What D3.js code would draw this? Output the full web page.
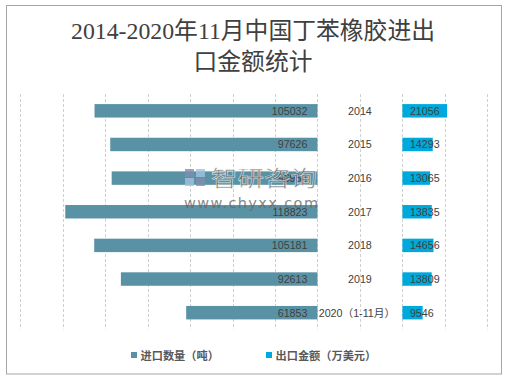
<!DOCTYPE html>
<html><head><meta charset="utf-8">
<script src="https://cdn.jsdelivr.net/npm/d3@7"></script>
<style>body{margin:0;background:#fff}svg{display:block}</style>
</head><body>
<script>
const years = ["2014","2015","2016","2017","2018","2019","2020（1-11月）"];
const importQty = [105032, 97626, 96954, 118823, 105181, 92613, 61853];
const exportAmt = [21056, 14293, 13065, 13835, 14656, 13809, 9546];
const seriesNames = ["进口数量（吨）", "出口金额（万美元）"];
const titleLines = ["2014-2020年11月中国丁苯橡胶进出", "口金额统计"];
const gridTicks = d3.range(-140000, 80001, 20000);
const spacer = 40000;

const W = 506, H = 380;
const svg = d3.select("body").append("svg").attr("width", W).attr("height", H);
svg.append("rect").attr("x", 6.5).attr("y", 5.5).attr("width", 495).attr("height", 368.5)
  .attr("fill", "#fff").attr("stroke", "#a6a6a6").attr("stroke-width", 1);

const x = d3.scaleLinear().domain([-140000, 80000]).range([20.3, 487.3]);
const y = d3.scaleBand().domain(years).range([94, 329.5]).paddingInner(0.6).paddingOuter(0.3);

const font = "'Liberation Sans','Noto Sans CJK SC',sans-serif";

// title
svg.append("g").selectAll("text").data(titleLines).join("text")
  .attr("x", 253).attr("y", (d, i) => 39 + i * 31)
  .attr("text-anchor", "middle")
  .attr("font-family", "'Liberation Serif','Noto Sans CJK SC',serif")
  .attr("font-size", 23.8).attr("fill", "#404040")
  .text(d => d);

// gridlines
svg.append("g").selectAll("line").data(gridTicks).join("line")
  .attr("x1", d => Math.round(x(d)) + 0.5).attr("x2", d => Math.round(x(d)) + 0.5)
  .attr("y1", 94).attr("y2", 329.5)
  .attr("stroke", "#d0d0d0").attr("stroke-width", 1).attr("stroke-dasharray", "3,2");

// import bars
svg.append("g").selectAll("rect").data(years).join("rect")
  .attr("x", (d, i) => x(-importQty[i])).attr("y", d => y(d))
  .attr("width", (d, i) => x(0) - x(-importQty[i])).attr("height", y.bandwidth())
  .attr("fill", "#5A92A5");

// export bars
svg.append("g").selectAll("rect").data(years).join("rect")
  .attr("x", x(spacer)).attr("y", d => y(d))
  .attr("width", (d, i) => x(spacer + exportAmt[i]) - x(spacer)).attr("height", y.bandwidth())
  .attr("fill", "#00A9DD");

// labels
const lg = svg.append("g").attr("font-family", font).attr("font-size", 10.7).attr("fill", "#404040");
lg.selectAll("text.imp").data(years).join("text").attr("class", "imp")
  .attr("x", x(0) - 10).attr("y", d => y(d) + y.bandwidth() / 2 + 4)
  .attr("text-anchor", "end").text((d, i) => importQty[i]);
lg.selectAll("text.exp").data(years).join("text").attr("class", "exp")
  .attr("x", x(spacer) + 7.5).attr("y", d => y(d) + y.bandwidth() / 2 + 4)
  .attr("text-anchor", "start").text((d, i) => exportAmt[i]);
lg.selectAll("text.yr").data(years).join("text").attr("class", "yr")
  .attr("x", (d, i) => i === years.length - 1 ? x(spacer / 2) - 3 : x(spacer / 2)).attr("y", d => y(d) + y.bandwidth() / 2 + 4)
  .attr("text-anchor", "middle").text(d => d);

// watermark
const wm = svg.append("g").attr("opacity", 0.8);
wm.append("rect").attr("x", 185).attr("y", 169).attr("width", 9).attr("height", 8).attr("fill", "#7f8fb0");
wm.append("rect").attr("x", 185).attr("y", 178).attr("width", 9).attr("height", 8).attr("fill", "#9fc3e0");
wm.append("rect").attr("x", 196).attr("y", 169).attr("width", 9).attr("height", 8).attr("fill", "#9fc3e0");
wm.append("rect").attr("x", 196).attr("y", 178).attr("width", 9).attr("height", 8).attr("fill", "#7f8fb0");
wm.append("text").attr("x", 211).attr("y", 186).attr("font-family", "'Noto Sans CJK SC',sans-serif")
  .attr("font-size", 22).attr("fill", "#6a6a6a").attr("stroke", "#fff").attr("stroke-width", 0.5)
  .attr("textLength", 106).attr("lengthAdjust", "spacingAndGlyphs")
  .text("智研咨询");
wm.append("text").attr("x", 184).attr("y", 208).attr("font-family", "'DejaVu Sans',sans-serif")
  .attr("font-size", 14.5).attr("fill", "#6a6a6a").attr("textLength", 134)
  .text("www.chyxx.com");

// legend
const colors = ["#5A92A5", "#00A9DD"];
const legX = [131, 266];
const leg = svg.append("g");
leg.selectAll("rect").data(seriesNames).join("rect")
  .attr("x", (d, i) => legX[i]).attr("y", 352).attr("width", 6).attr("height", 6)
  .attr("fill", (d, i) => colors[i]);
leg.selectAll("text").data(seriesNames).join("text")
  .attr("x", (d, i) => legX[i] + 9.5).attr("y", 359.5)
  .attr("font-family", "'Noto Sans CJK SC',sans-serif").attr("font-size", 11.2)
  .attr("font-weight", "bold").attr("fill", "#595959")
  .text(d => d);
</script>
</body></html>
